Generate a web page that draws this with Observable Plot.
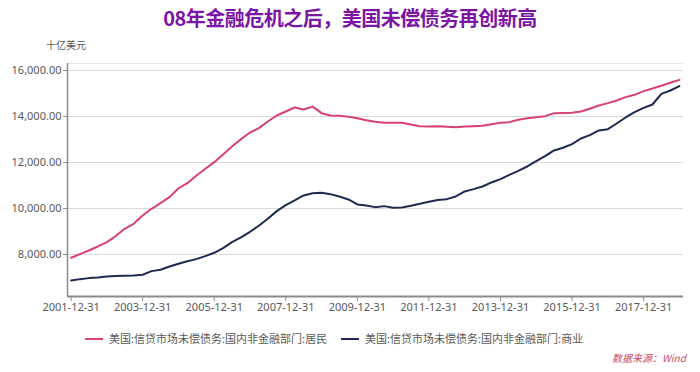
<!DOCTYPE html>
<html>
<head>
<meta charset="utf-8">
<script src="https://cdn.jsdelivr.net/npm/d3@7"></script>
<script src="https://cdn.jsdelivr.net/npm/@observablehq/plot@0.6"></script>
<style>
  body { margin: 0; background: #fff; }
  #wrap { position: relative; width: 700px; height: 372px; overflow: hidden; font-family: "Noto Sans", "Noto Sans CJK SC", sans-serif; }
  #title { position: absolute; top: 3px; left: 0; width: 700px; text-align: center; font-size: 20px; font-weight: bold; color: #7c15a4; font-family: "Noto Sans CJK SC", sans-serif; letter-spacing: -0.5px; }
  #unit { position: absolute; top: 37px; left: 46px; font-size: 10px; color: #595959; font-family: "Noto Sans CJK SC", sans-serif; }
  #chart { position: absolute; top: 50px; left: 0; }
  .leg { position: absolute; top: 330px; font-size: 11px; color: #595959; font-family: "Noto Sans CJK SC", sans-serif; white-space: nowrap; }
  .sw { display: inline-block; width: 18px; height: 2px; vertical-align: middle; margin-right: 6px; position: relative; top: -1px; }
  #src { position: absolute; top: 350px; left: 612px; font-size: 10px; font-style: italic; color: #cc4a5e; font-family: "Noto Sans CJK SC", sans-serif; }
</style>
</head>
<body>
<div id="wrap">
  <div id="title">08年金融危机之后，美国未偿债务再创新高</div>
  <div id="unit">十亿美元</div>
  <div id="chart"></div>
  <div class="leg" id="leg1" style="left:85px"></div>
  <div class="leg" id="leg2" style="left:341px"></div>
  <div id="src">数据来源：Wind</div>
</div>
<script>
// Series names
const seriesNames = ["美国:信贷市场未偿债务:国内非金融部门:居民", "美国:信贷市场未偿债务:国内非金融部门:商业"];
const seriesColors = ["#d9416e", "#1c2a50"];

// Quarterly, first quarter end 2001-12-31, last 2018-12-31
const startYear = 2001;
const quarterCount = 69;

// 居民 (household), billions USD
const household = [
  7857, 8016, 8175, 8349, 8538, 8800, 9117, 9335, 9697, 9987,
  10233, 10494, 10880, 11100, 11421, 11726, 12015, 12349, 12696, 13015,
  13305, 13493, 13783, 14044, 14218, 14392, 14305, 14430, 14145, 14044,
  14030, 13986, 13928, 13841, 13769, 13725, 13725, 13725, 13653, 13580,
  13566, 13575, 13551, 13537, 13566, 13580, 13595, 13667, 13725, 13754,
  13856, 13928, 13972, 14015, 14145, 14150, 14160, 14218, 14334, 14479,
  14580, 14696, 14841, 14943, 15102, 15218, 15334, 15464, 15594
];

// 商业 (business), billions USD
const business = [
  6872, 6929, 6973, 7002, 7045, 7060, 7074, 7089, 7118, 7277,
  7335, 7480, 7596, 7710, 7799, 7929, 8074, 8277, 8538, 8741,
  8987, 9248, 9552, 9886, 10146, 10349, 10566, 10660, 10682, 10624,
  10523, 10392, 10175, 10132, 10059, 10103, 10030, 10045, 10117, 10204,
  10291, 10370, 10407, 10523, 10741, 10842, 10958, 11132, 11277, 11465,
  11639, 11827, 12059, 12276, 12523, 12640, 12798, 13044, 13189, 13392,
  13450, 13696, 13957, 14189, 14377, 14522, 14986, 15131, 15319
];

const yTicks = [8000, 10000, 12000, 14000, 16000];
const xTickYears = [2001, 2003, 2005, 2007, 2009, 2011, 2013, 2015, 2017];

const quarterEnd = i => d3.utcDay.offset(d3.utcMonth.offset(new Date(Date.UTC(startYear + 1, 0, 1)), 3 * i), -1);
const dates = d3.range(quarterCount).map(quarterEnd);
const xTicks = xTickYears.map(y => new Date(Date.UTC(y, 11, 31)));

const rows = [];
dates.forEach((d, i) => {
  rows.push({date: d, value: household[i], series: seriesNames[0]});
  rows.push({date: d, value: business[i], series: seriesNames[1]});
});

const yMin = 6174, yMax = 16304;
const xMin = new Date(Date.UTC(2001, 10, 24)), xMax = new Date(Date.UTC(2019, 1, 11));

const fmtY = d3.format(",.2f");
const fmtX = d3.utcFormat("%Y-%m-%d");

const chart = Plot.plot({
  width: 700,
  height: 270,
  marginTop: 13,
  marginBottom: 24,
  marginLeft: 67,
  marginRight: 17,
  style: {fontFamily: "'Noto Sans', sans-serif", fontSize: "11px", color: "#595959", background: "transparent"},
  x: {type: "utc", domain: [xMin, xMax]},
  y: {domain: [yMin, yMax]},
  color: {domain: seriesNames, range: seriesColors},
  marks: [
    Plot.ruleY(yTicks, {stroke: "#d9d9d9", strokeWidth: 1.2}),
    Plot.ruleY([yMax], {stroke: "#e6e6e6", strokeWidth: 1}),
    Plot.axisY({ticks: yTicks, tickFormat: fmtY, tickSize: 4, tickPadding: 2, stroke: "#8c8c8c", fill: "#595959", label: null}),
    Plot.axisX({ticks: xTicks, tickFormat: fmtX, tickSize: 5, tickPadding: 2, stroke: "#8c8c8c", fill: "#595959", label: null}),
    Plot.ruleX([xMin], {stroke: "#8c8c8c", strokeWidth: 1.5}),
    Plot.ruleY([yMin], {stroke: "#8c8c8c", strokeWidth: 2}),
    Plot.line(rows, {x: "date", y: "value", z: "series", stroke: "series", strokeWidth: 2})
  ]
});
document.getElementById("chart").appendChild(chart);

document.getElementById("leg1").innerHTML = `<span class="sw" style="background:${seriesColors[0]}"></span>${seriesNames[0]}`;
document.getElementById("leg2").innerHTML = `<span class="sw" style="background:${seriesColors[1]}"></span>${seriesNames[1]}`;
</script>
</body>
</html>
